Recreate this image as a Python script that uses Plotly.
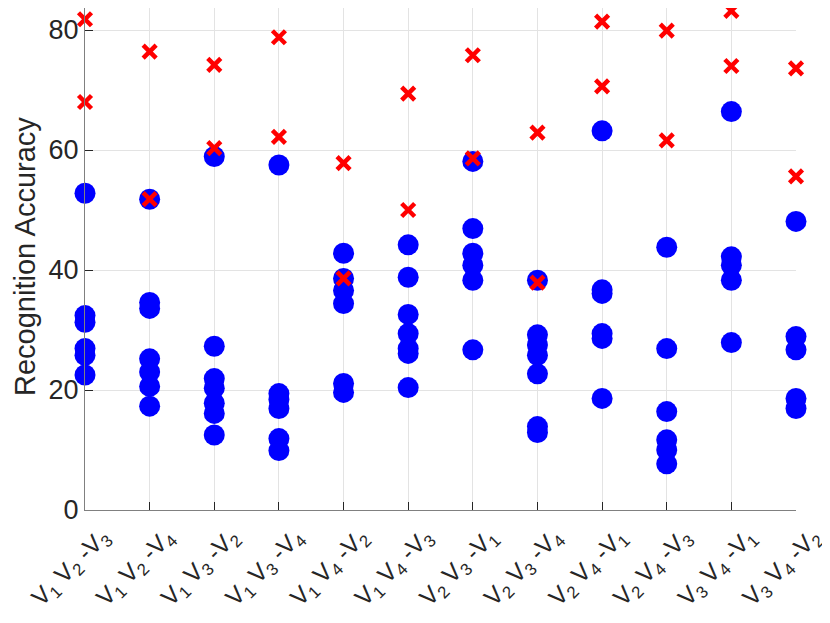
import plotly.graph_objects as go

# Category labels (tick text)
categories = [
    "V<sub>1</sub> V<sub>2</sub> -V<sub>3</sub>",
    "V<sub>1</sub> V<sub>2</sub> -V<sub>4</sub>",
    "V<sub>1</sub> V<sub>3</sub> -V<sub>2</sub>",
    "V<sub>1</sub> V<sub>3</sub> -V<sub>4</sub>",
    "V<sub>1</sub> V<sub>4</sub> -V<sub>2</sub>",
    "V<sub>1</sub> V<sub>4</sub> -V<sub>3</sub>",
    "V<sub>2</sub> V<sub>3</sub> -V<sub>1</sub>",
    "V<sub>2</sub> V<sub>3</sub> -V<sub>4</sub>",
    "V<sub>2</sub> V<sub>4</sub> -V<sub>1</sub>",
    "V<sub>2</sub> V<sub>4</sub> -V<sub>3</sub>",
    "V<sub>3</sub> V<sub>4</sub> -V<sub>1</sub>",
    "V<sub>3</sub> V<sub>4</sub> -V<sub>2</sub>",
]
positions = list(range(1, 13))

# Blue circles: accuracy values per category
circle_values = [
    [52.8, 32.4, 31.3, 26.9, 25.8, 22.5],
    [51.8, 34.6, 33.6, 25.2, 23.0, 20.6, 17.3],
    [58.9, 27.3, 21.9, 20.3, 17.8, 16.1, 12.5],
    [57.5, 19.4, 18.4, 16.9, 11.9, 9.9],
    [42.8, 38.6, 36.6, 34.4, 21.1, 19.6],
    [44.2, 38.8, 32.6, 29.4, 26.9, 26.1, 20.4],
    [58.1, 46.9, 42.8, 40.8, 38.3, 26.7],
    [38.3, 29.2, 27.5, 25.8, 22.7, 13.9, 12.9],
    [63.2, 36.7, 36.1, 29.4, 28.6, 18.6],
    [43.8, 26.9, 16.4, 11.7, 10.0, 7.7],
    [66.4, 42.2, 40.8, 38.3, 27.9],
    [48.1, 28.9, 26.7, 18.6, 16.9],
]

# Red crosses: accuracy values per category
cross_values = [
    [81.8, 68.0],
    [76.4, 51.8],
    [74.2, 60.3],
    [78.8, 62.2],
    [57.8, 38.6],
    [69.4, 50.0],
    [75.8, 58.6],
    [62.9, 37.9],
    [81.4, 70.6],
    [79.9, 61.6],
    [83.2, 74.0],
    [73.6, 55.6],
]

y_ticks = [0, 20, 40, 60, 80]

cx, cy = [], []
for p, vals in zip(positions, circle_values):
    for v in vals:
        cx.append(p)
        cy.append(v)
xx, xy = [], []
for p, vals in zip(positions, cross_values):
    for v in vals:
        xx.append(p)
        xy.append(v)

fig = go.Figure()
fig.add_trace(go.Scatter(
    x=cx, y=cy, mode="markers", cliponaxis=False,
    marker=dict(symbol="circle", size=21, color="rgb(0,0,255)", line=dict(width=0)),
    showlegend=False,
))
fig.add_trace(go.Scatter(
    x=xx, y=xy, mode="markers", cliponaxis=False,
    marker=dict(symbol="x-thin", size=13, color="rgb(255,0,0)",
                line=dict(width=4.5, color="rgb(255,0,0)")),
    showlegend=False,
))

font_family = "Liberation Sans, Arial, sans-serif"
fig.update_layout(
    width=822, height=615,
    margin=dict(l=77, r=34, t=0, b=113),
    paper_bgcolor="white", plot_bgcolor="white",
    font=dict(family=font_family, size=27, color="#262626"),
)
fig.update_xaxes(
    range=[1, 12], tickmode="array", tickvals=positions, ticktext=categories,
    tickangle=-45, ticks="inside", ticklen=8, tickcolor="#262626",
    ticklabelshift=17, ticklabelstandoff=2, ticklabeloverflow="allow",
    automargin=False,
    showgrid=True, gridcolor="#e3e3e3", gridwidth=1,
    showline=True, linecolor="#808080", linewidth=1,
    zeroline=False, tickfont=dict(size=24, color="#262626"),
)
fig.update_yaxes(
    range=[0, 83.67], tickmode="array", tickvals=y_ticks, automargin=False,
    ticks="inside", ticklen=8, tickcolor="#262626",
    showgrid=True, gridcolor="#e3e3e3", gridwidth=1,
    showline=True, linecolor="#808080", linewidth=1,
    zeroline=False, tickfont=dict(size=27, color="#262626"),
)
fig.add_annotation(
    text="Recognition Accuracy", xref="paper", yref="paper",
    x=(25 - 85) / 711, y=(510 - 257) / 502, xanchor="center", yanchor="middle",
    textangle=-90, showarrow=False, borderpad=0,
    font=dict(size=29, color="#262626"),
)
fig.write_html("out.html")
